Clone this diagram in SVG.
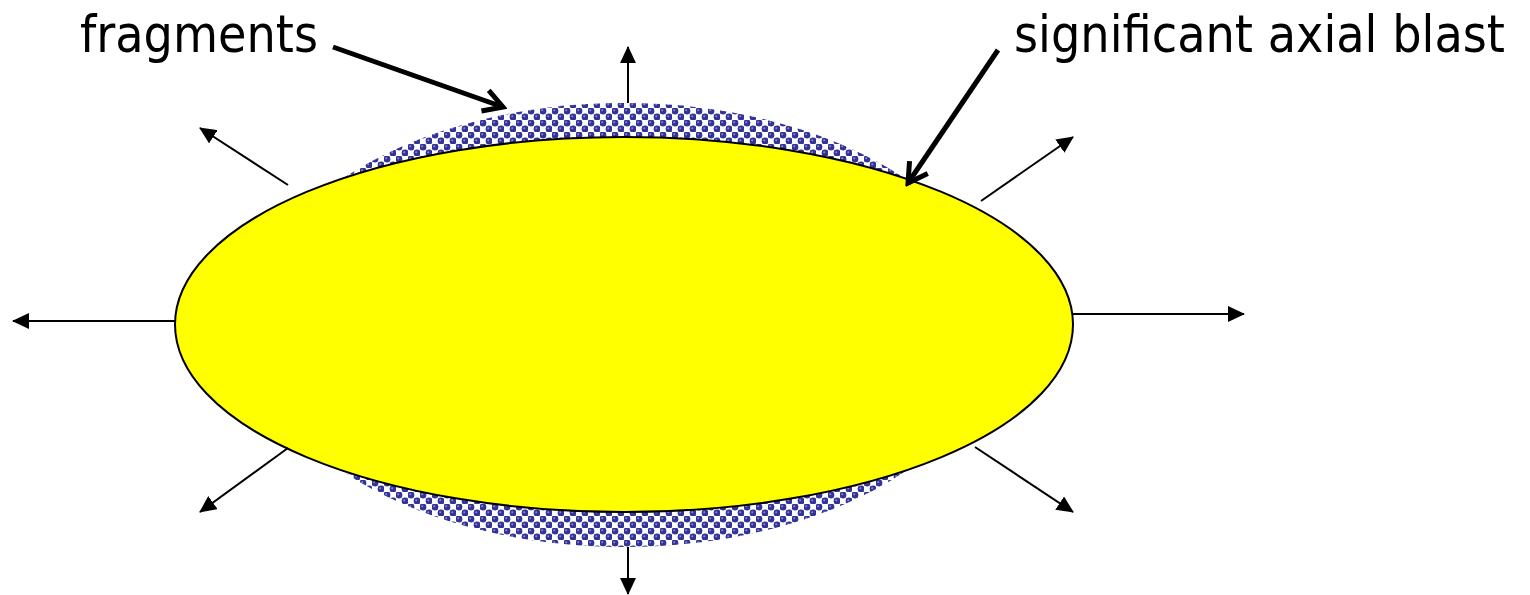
<svg xmlns="http://www.w3.org/2000/svg" width="1530" height="595" viewBox="0 0 1530 595">
  <style>
    .thin { stroke: #000; stroke-width: 2; fill: none; marker-end: url(#tri); }
    .thick { stroke: #000; stroke-width: 5; fill: none; marker-end: url(#chev); }
    .label { font-family: "DejaVu Sans Condensed", "DejaVu Sans", sans-serif; font-stretch: condensed; font-size: 51px; fill: #000; }
  </style>
  <defs>
    <pattern id="sphere" patternUnits="userSpaceOnUse" width="12" height="12">
      <rect width="12" height="12" fill="#ffffff"/>
      <rect x="0" y="0" width="6" height="6" fill="#b8b8dc"/>
      <rect x="6" y="6" width="6" height="6" fill="#b8b8dc"/>
      <circle cx="3" cy="3" r="3.4" fill="#333399"/>
      <circle cx="9" cy="9" r="3.4" fill="#333399"/>
      <circle cx="2.2" cy="2.2" r="1" fill="#8c8cc8"/>
      <circle cx="8.2" cy="8.2" r="1" fill="#8c8cc8"/>
    </pattern>
    <marker id="tri" markerUnits="userSpaceOnUse" viewBox="0 0 17 16" refX="16" refY="8" markerWidth="17" markerHeight="16" orient="auto">
      <path d="M0,0 L17,8 L0,16 z" fill="#000"/>
    </marker>
    <marker id="chev" markerUnits="userSpaceOnUse" viewBox="-26 -16 30 32" refX="0" refY="0" markerWidth="30" markerHeight="32" orient="auto">
      <path d="M-19,-11 L0,0 L-19,11" fill="none" stroke="#000" stroke-width="5" stroke-linejoin="miter"/>
    </marker>
  </defs>

  <g id="fragments-shell">
    <ellipse cx="624" cy="325" rx="374" ry="222" fill="url(#sphere)"/>
  </g>

  <g id="blast-core">
    <ellipse cx="624" cy="324.5" rx="449" ry="187.5" fill="#ffff00" stroke="#000" stroke-width="2"/>
  </g>

  <g id="connectors">
    <line class="thin" x1="628" y1="103" x2="628" y2="47"/>
    <line class="thin" x1="628" y1="547" x2="628" y2="594"/>
    <line class="thin" x1="175" y1="321" x2="13" y2="321"/>
    <line class="thin" x1="1073" y1="314" x2="1244" y2="314"/>
    <line class="thin" x1="288" y1="185" x2="200" y2="128"/>
    <line class="thin" x1="981" y1="201" x2="1073" y2="137"/>
    <line class="thin" x1="288" y1="448" x2="200" y2="512"/>
    <line class="thin" x1="975" y1="447" x2="1073" y2="512"/>
    <line class="thick" x1="333" y1="47" x2="503" y2="107"/>
    <line class="thick" x1="998" y1="50" x2="908" y2="183"/>
  </g>

  <g id="label-fragments">
    <text class="label" x="80" y="52" textLength="238" lengthAdjust="spacingAndGlyphs">fragments</text>
  </g>
  <g id="label-axial">
    <text class="label" x="1014" y="52" textLength="491" lengthAdjust="spacingAndGlyphs">significant axial blast</text>
  </g>
</svg>
